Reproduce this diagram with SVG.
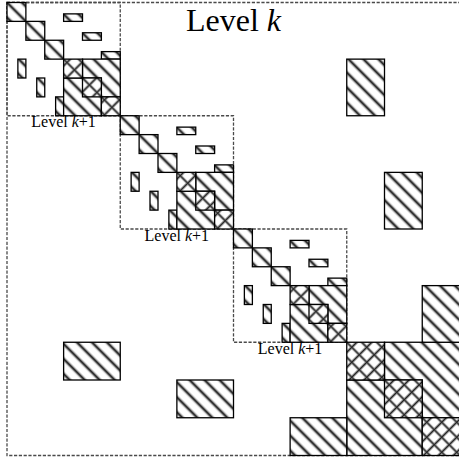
<svg xmlns="http://www.w3.org/2000/svg" width="459" height="460" viewBox="0 0 459 460">
<defs>
<pattern id="hatch" patternUnits="userSpaceOnUse" width="10.6" height="10.6" patternTransform="translate(-7.5,0) rotate(-45)">
<rect width="10.6" height="10.6" fill="#fff"/>
<line x1="5.3" y1="-1" x2="5.3" y2="11.6" stroke="#9a9a9a" stroke-width="3.6"/>
<line x1="5.3" y1="-1" x2="5.3" y2="11.6" stroke="#141414" stroke-width="1.5"/>
</pattern>
<pattern id="cross" patternUnits="userSpaceOnUse" width="10.6" height="10.6" patternTransform="translate(-7.5,0) rotate(-45)">
<rect width="10.6" height="10.6" fill="#fff"/>
<line x1="5.3" y1="-1" x2="5.3" y2="11.6" stroke="#a0a0a0" stroke-width="3"/>
<line x1="-1" y1="5.3" x2="11.6" y2="5.3" stroke="#a0a0a0" stroke-width="3"/>
<line x1="5.3" y1="-1" x2="5.3" y2="11.6" stroke="#222" stroke-width="1.2"/>
<line x1="-1" y1="5.3" x2="11.6" y2="5.3" stroke="#222" stroke-width="1.2"/>
</pattern>
</defs>
<style>
.h{fill:url(#hatch);stroke:#000;stroke-width:1.3}
.x{fill:url(#cross);stroke:#000;stroke-width:1.3}
.d{fill:none;stroke:#4a4a4a;stroke-width:1.3;stroke-dasharray:3.2 1.6}
.lbl{font-family:"Liberation Serif","Times New Roman",serif;font-size:16px;fill:#000;text-anchor:middle}
.big{font-family:"Liberation Serif","Times New Roman",serif;font-size:32px;fill:#000;text-anchor:middle}
</style>
<rect width="459" height="460" fill="#fff"/>
<g transform="translate(7,2.5)">
<g id="level-k">
<rect class="d" x="0" y="0" width="453" height="453"/>
<text class="big" x="226.5" y="28.5">Level <tspan font-style="italic">k</tspan></text>
</g>
<g id="box1">
<rect class="d" x="0" y="0" width="113.25" height="113.25"/>
<rect class="h" x="0" y="0" width="18.875" height="18.875"/>
<rect class="h" x="18.875" y="18.875" width="18.875" height="18.875"/>
<rect class="h" x="37.75" y="37.75" width="18.875" height="18.875"/>
<rect class="h" x="56.625" y="11.375" width="18.875" height="7.5"/>
<rect class="h" x="75.5" y="30.25" width="18.875" height="7.5"/>
<rect class="h" x="94.375" y="49.125" width="18.875" height="7.5"/>
<rect class="h" x="10.875" y="56.625" width="8" height="18.875"/>
<rect class="h" x="29.75" y="75.5" width="8" height="18.875"/>
<rect class="h" x="48.625" y="94.375" width="8" height="18.875"/>
<rect class="h" x="75.5" y="56.625" width="37.75" height="37.75"/>
<rect class="h" x="56.625" y="75.5" width="37.75" height="37.75"/>
<rect class="x" x="56.625" y="56.625" width="18.875" height="18.875"/>
<rect class="x" x="75.5" y="75.5" width="18.875" height="18.875"/>
<rect class="x" x="94.375" y="94.375" width="18.875" height="18.875"/>
<text class="lbl" x="56.6" y="124.8">Level <tspan font-style="italic">k</tspan>+1</text>
</g>
<g id="box2" transform="translate(113.25,113.25)">
<rect class="d" x="0" y="0" width="113.25" height="113.25"/>
<rect class="h" x="0" y="0" width="18.875" height="18.875"/>
<rect class="h" x="18.875" y="18.875" width="18.875" height="18.875"/>
<rect class="h" x="37.75" y="37.75" width="18.875" height="18.875"/>
<rect class="h" x="56.625" y="11.375" width="18.875" height="7.5"/>
<rect class="h" x="75.5" y="30.25" width="18.875" height="7.5"/>
<rect class="h" x="94.375" y="49.125" width="18.875" height="7.5"/>
<rect class="h" x="10.875" y="56.625" width="8" height="18.875"/>
<rect class="h" x="29.75" y="75.5" width="8" height="18.875"/>
<rect class="h" x="48.625" y="94.375" width="8" height="18.875"/>
<rect class="h" x="75.5" y="56.625" width="37.75" height="37.75"/>
<rect class="h" x="56.625" y="75.5" width="37.75" height="37.75"/>
<rect class="x" x="56.625" y="56.625" width="18.875" height="18.875"/>
<rect class="x" x="75.5" y="75.5" width="18.875" height="18.875"/>
<rect class="x" x="94.375" y="94.375" width="18.875" height="18.875"/>
<text class="lbl" x="56.6" y="124.8">Level <tspan font-style="italic">k</tspan>+1</text>
</g>
<g id="box3" transform="translate(226.5,226.5)">
<rect class="d" x="0" y="0" width="113.25" height="113.25"/>
<rect class="h" x="0" y="0" width="18.875" height="18.875"/>
<rect class="h" x="18.875" y="18.875" width="18.875" height="18.875"/>
<rect class="h" x="37.75" y="37.75" width="18.875" height="18.875"/>
<rect class="h" x="56.625" y="11.375" width="18.875" height="7.5"/>
<rect class="h" x="75.5" y="30.25" width="18.875" height="7.5"/>
<rect class="h" x="94.375" y="49.125" width="18.875" height="7.5"/>
<rect class="h" x="10.875" y="56.625" width="8" height="18.875"/>
<rect class="h" x="29.75" y="75.5" width="8" height="18.875"/>
<rect class="h" x="48.625" y="94.375" width="8" height="18.875"/>
<rect class="h" x="75.5" y="56.625" width="37.75" height="37.75"/>
<rect class="h" x="56.625" y="75.5" width="37.75" height="37.75"/>
<rect class="x" x="56.625" y="56.625" width="18.875" height="18.875"/>
<rect class="x" x="75.5" y="75.5" width="18.875" height="18.875"/>
<rect class="x" x="94.375" y="94.375" width="18.875" height="18.875"/>
<text class="lbl" x="56.6" y="124.8">Level <tspan font-style="italic">k</tspan>+1</text>
</g>
<g id="block4">
<rect class="h" x="377.5" y="339.75" width="75.5" height="75.5"/>
<rect class="h" x="339.75" y="377.5" width="75.5" height="75.5"/>
<rect class="x" x="339.75" y="339.75" width="37.75" height="37.75"/>
<rect class="x" x="377.5" y="377.5" width="37.75" height="37.75"/>
<rect class="x" x="415.25" y="415.25" width="37.75" height="37.75"/>
</g>
<g id="offdiag-upper">
<rect class="h" x="339.75" y="56.625" width="37.75" height="56.625"/>
<rect class="h" x="377.5" y="169.875" width="37.75" height="56.625"/>
<rect class="h" x="415.25" y="283.125" width="37.75" height="56.625"/>
</g>
<g id="offdiag-lower">
<rect class="h" x="56.625" y="339.75" width="56.625" height="37.75"/>
<rect class="h" x="169.875" y="377.5" width="56.625" height="37.75"/>
<rect class="h" x="283.125" y="415.25" width="56.625" height="37.75"/>
</g>
</g>
</svg>
